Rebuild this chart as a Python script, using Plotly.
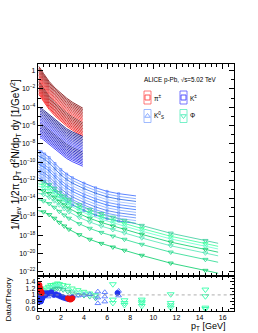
import plotly.graph_objects as go

W, H = 258, 333

# ---------------- data (log10 of 1/Nev 1/2pi pT d2N/dpTdy) ----------------
pi_pt = [0.1, 0.2, 0.3, 0.5, 0.75, 1.0, 1.5, 2.0, 2.5, 3.0, 3.5, 3.9]
pi_top_log = [0.45, 0.3, 0.1, -0.3, -0.75, -1.2, -1.9, -2.5, -3.0, -3.45, -3.85, -4.1]
pi_shift = [0.0, -0.16, -0.32, -0.48, -0.64, -0.8, -0.96, -1.12, -1.28, -1.44,
            -1.6, -1.76, -1.92, -2.08, -2.24, -2.4, -2.56, -2.72, -2.88, -3.05]

ka_pt = [0.2, 0.35, 0.5, 0.75, 1.0, 1.5, 2.0, 2.5, 3.0, 3.5, 3.9]
ka_top_log = [-4.1, -4.15, -4.3, -4.55, -4.8, -5.35, -5.9, -6.35, -6.7, -7.0, -7.2]
ka_shift = [0.0, -0.17, -0.34, -0.51, -0.68, -0.85, -1.02, -1.19, -1.36, -1.53,
            -1.7, -1.87, -2.04, -2.21, -2.38, -2.55, -2.72, -2.89, -3.06, -3.25]

k0_pt = [0.05, 0.3, 0.6, 1.0, 1.5, 2.0, 2.5, 3.0, 4.0, 5.0, 6.0, 7.0, 8.5]
k0_top_log = [-8.7, -8.85, -9.1, -9.5, -10.15, -10.8, -11.3, -11.7, -12.3, -12.8, -13.2, -13.45, -13.7]
k0_shift = [0.0, -0.3, -0.6, -0.9, -1.2, -1.5, -1.8, -2.1, -2.4, -2.7, -3.0]
k0_data_pt = [0.3, 0.6, 1.0, 1.5, 2.0, 2.5, 3.0, 4.0, 5.0, 6.0, 7.0]

phi_pt = [0.05, 0.5, 1.0, 1.44, 1.87, 2.3, 2.7, 3.6, 4.5, 5.5, 6.5, 7.5, 9.0, 11.5, 14.5, 15.6]
phi_low_log = [-15.3, -15.45, -15.75, -16.15, -16.6, -17.0, -17.35, -17.95, -18.45,
               -18.9, -19.3, -19.65, -20.2, -21.05, -21.85, -22.15]
phi_shift = [3.27, 2.94, 2.65, 2.3, 1.9, 1.2, 0.0]
phi_data_pt = [0.5, 1.0, 1.44, 1.87, 2.3, 2.7, 3.6, 4.5, 5.5, 6.5, 7.5, 9.0, 11.5, 14.5]

# ratio panel (Data/Theory)
pi_r_pt = [0.1, 0.15, 0.2, 0.25, 0.3, 0.35, 2.6, 2.7, 2.8, 2.9, 3.0]
pi_r_val = [1.25, 1.3, 1.22, 1.15, 1.1, 1.05, 0.9, 0.88, 0.86, 0.87, 0.9]

ka_r_pt = [0.2, 0.25, 0.3, 0.35, 0.4, 0.45, 0.5, 0.6, 0.7, 0.8, 0.2, 0.3, 0.4, 0.5, 0.6,
           1.0, 1.2, 1.4, 1.6, 1.8, 2.0, 2.2, 2.4, 2.6, 2.8, 3.0, 6.9]
ka_r_val = [0.85, 0.8, 0.82, 0.88, 0.9, 0.95, 1.0, 1.02, 1.0, 1.05, 1.0, 0.95, 0.92, 0.98, 1.05,
            1.05, 1.08, 1.0, 1.02, 0.98, 0.95, 0.92, 0.9, 0.88, 0.9, 0.92, 1.06]

k0_r_pt = [0.1, 0.3, 0.5, 0.7, 0.9, 1.1, 1.3, 1.5, 1.7, 1.9, 2.2, 2.6, 3.0, 3.5, 4.0, 4.5,
           5.2, 5.2, 5.2, 5.8, 5.8, 5.8, 7.0, 7.0]
k0_r_val = [0.95, 1.0, 1.05, 1.0, 0.95, 1.02, 1.05, 1.0, 0.98, 1.0, 0.95, 0.92, 0.95, 0.98, 1.0, 1.02,
            1.1, 0.92, 0.75, 1.08, 0.95, 0.8, 1.12, 0.98]

phi_r_pt = [0.5, 0.7, 0.9, 1.1, 1.3, 1.5, 1.7, 1.9, 2.2, 2.6, 3.0, 3.5, 4.0, 4.5, 5.0]
phi_r_a = [1.15, 1.2, 1.25, 1.3, 1.3, 1.32, 1.35, 1.33, 1.3, 1.28, 1.2, 1.15, 1.1, 1.05, 1.0]
phi_r_b = [1.05, 1.1, 1.15, 1.2, 1.22, 1.25, 1.28, 1.25, 1.2, 1.15, 1.1, 1.08, 1.05, 1.0, 0.98]
phi_r_c = [0.95, 1.0, 1.05, 1.1, 1.15, 1.18, 1.2, 1.18, 1.15, 1.1, 1.05, 1.0, 0.98, 0.95, 0.9]
phi_hr_pt = [6.5, 6.5, 6.5, 7.5, 7.5, 7.5, 9.0, 9.0, 9.0, 9.0, 11.5, 11.5, 11.5, 11.5, 14.5, 14.5, 14.5, 14.5]
phi_hr_val = [1.32, 0.86, 0.76, 0.84, 0.76, 0.7, 0.86, 0.8, 0.75, 0.67, 1.02, 0.76, 0.69, 0.62,
              1.16, 0.96, 0.62, 0.58]
ref_value = 1.0

y_tick_vals = [1e0, 1e-2, 1e-4, 1e-6, 1e-8, 1e-10, 1e-12, 1e-14, 1e-16, 1e-18, 1e-20, 1e-22]
y_tick_text = ["1", "10<sup>−2</sup>", "10<sup>−4</sup>", "10<sup>−6</sup>", "10<sup>−8</sup>",
               "10<sup>−10</sup>", "10<sup>−12</sup>", "10<sup>−14</sup>", "10<sup>−16</sup>",
               "10<sup>−18</sup>", "10<sup>−20</sup>", "10<sup>−22</sup>"]
y_minor_vals = [1e-1, 1e-3, 1e-5, 1e-7, 1e-9, 1e-11, 1e-13, 1e-15, 1e-17, 1e-19, 1e-21]
r_tick_vals = [0.6, 0.8, 1.0, 1.2, 1.4]
r_tick_text = ["0.6", "0.8", "1", "1.2", "1.4"]

legend_labels = ["π<sup>±</sup>", "K<sup>±</sup>", "K<sup>0</sup><sub>S</sub>", "Φ"]

# ---------------- styles ----------------
FONT = "Liberation Sans, Arial, sans-serif"


def grad(c1, c2, n):
    a = [int(c1[i:i + 2], 16) for i in (1, 3, 5)]
    b = [int(c2[i:i + 2], 16) for i in (1, 3, 5)]
    out = []
    for k in range(n):
        t = k / max(n - 1, 1)
        out.append("#%02x%02x%02x" % tuple(int(a[j] + (b[j] - a[j]) * t) for j in range(3)))
    return out


pi_colors = grad("#7a0000", "#ff2a2a", 10) + grad("#8a0000", "#ff0000", 10)
ka_colors = grad("#000078", "#3a3aff", 10) + grad("#0000a0", "#1e1eff", 10)
k0_colors = ["#3366ff", "#6f9bff", "#1f5fe6", "#99bbff", "#4d7fff", "#2a6cff",
             "#7fa8ff", "#3d70f0", "#5a8cff", "#86acff", "#2f63ea"]
phi_colors = ["#33cc99", "#33ff99", "#66ffcc", "#00cc66", "#4de6b3", "#1fd98c", "#00cc66"]


def px(x):  # window pixel -> paper fraction
    return x / W


def py(y):
    return 1 - y / H


fig = go.Figure()


def add_curves(pts, base, shifts, colors):
    for s, c in zip(shifts, colors):
        fig.add_trace(go.Scatter(x=pts, y=[10 ** (v + s) for v in base], mode="lines",
                                 line=dict(color=c, width=0.8), xaxis="x", yaxis="y",
                                 showlegend=False, hoverinfo="skip"))


add_curves(pi_pt, pi_top_log, pi_shift, pi_colors)
add_curves(ka_pt, ka_top_log, ka_shift, ka_colors)
add_curves(k0_pt, k0_top_log, k0_shift, k0_colors)
add_curves(phi_pt, phi_low_log, phi_shift, phi_colors)

# data markers on K0S and phi spectra
for s, c in zip(k0_shift, k0_colors):
    xs, ys = [], []
    for p, v in zip(k0_pt, k0_top_log):
        if p in k0_data_pt:
            xs.append(p)
            ys.append(10 ** (v + s))
    fig.add_trace(go.Scatter(x=xs, y=ys, mode="markers", xaxis="x", yaxis="y",
                             marker=dict(symbol="square-open", size=2, color=c, line=dict(width=0.5)),
                             showlegend=False, hoverinfo="skip"))
for s, c in zip(phi_shift, phi_colors):
    xs, ys = [], []
    for p, v in zip(phi_pt, phi_low_log):
        if p in phi_data_pt:
            xs.append(p)
            ys.append(10 ** (v + s))
    fig.add_trace(go.Scatter(x=xs, y=ys, mode="markers", xaxis="x", yaxis="y",
                             marker=dict(symbol="triangle-down-open", size=4.5, color=c, line=dict(width=0.8)),
                             showlegend=False, hoverinfo="skip"))

# ratio panel
fig.add_shape(type="line", xref="x2 domain", yref="y2", x0=0, x1=1, y0=ref_value, y1=ref_value,
              line=dict(color="#999999", width=0.8, dash="dot"))


def add_ratio(xs, ys, symbol, color, size=5):
    fig.add_trace(go.Scatter(x=xs, y=ys, mode="markers", xaxis="x2", yaxis="y2",
                             marker=dict(symbol=symbol, size=size, color=color, line=dict(width=0.9, color=color)),
                             showlegend=False, hoverinfo="skip"))


add_ratio(phi_r_pt, phi_r_a, "triangle-down-open", "#33ff99")
add_ratio(phi_r_pt, phi_r_b, "triangle-down-open", "#66ffcc")
add_ratio(phi_r_pt, phi_r_c, "triangle-down-open", "#33cc99")
add_ratio(k0_r_pt, k0_r_val, "triangle-up-open", "#5577ff")
add_ratio(ka_r_pt, ka_r_val, "circle", "#2233ee")
add_ratio(pi_r_pt, pi_r_val, "circle", "#ee1111")
add_ratio(phi_hr_pt, phi_hr_val, "triangle-down-open", "#33ffaa", 6)

# legend markers (separate axis in window-pixel units)
leg_pos = [(147.5, 97.5), (183.5, 97.5), (147.5, 116), (183.5, 116)]
leg_sym = ["square-open", "square-open", "triangle-up-open", "triangle-down-open"]
leg_col = ["#ff5555", "#5555ff", "#88aaff", "#55eebb"]
fig.add_trace(go.Scatter(x=[p[0] for p in leg_pos], y=[p[1] for p in leg_pos], mode="markers",
                         xaxis="x3", yaxis="y3",
                         marker=dict(symbol=leg_sym, size=5, color=leg_col, line=dict(width=1, color=leg_col)),
                         showlegend=False, hoverinfo="skip"))


def note(x, y, text, size, xanchor="center", angle=0):
    fig.add_annotation(x=px(x), y=py(y), xref="paper", yref="paper", text=text, showarrow=False,
                       xanchor=xanchor, yanchor="middle", textangle=angle,
                       font=dict(size=size, family=FONT, color="black"))


for (x, y), col, lab in zip(leg_pos, leg_col, legend_labels):
    fig.add_shape(type="rect", xref="paper", yref="paper",
                  x0=px(x - 3.5), x1=px(x + 3.5), y0=py(y + 6.5), y1=py(y - 6.5),
                  line=dict(color=col, width=0.8))
    note(x + 4.5, y, lab, 6.5, xanchor="left")

note(180, 80, "ALICE p-Pb, √s=5.02 TeV", 6.3)
note(15, 155, "1/N<sub>ev</sub> 1/2π p<sub>T</sub> d<sup>2</sup>N/dp<sub>T</sub> dy [1/GeV<sup>2</sup>]",
     10, angle=-90)
note(7.5, 300, "Data/Theory", 8, angle=-90)
note(227, 326.5, "p<sub>T</sub> [GeV]", 9, xanchor="right")

xdom = [px(37.7), px(234.3)]
ax_common = dict(showline=True, linecolor="black", linewidth=1, mirror="ticks", ticks="inside",
                 tickcolor="black", showgrid=False, zeroline=False, automargin=False,
                 tickfont=dict(size=7, family=FONT, color="black"))

fig.update_layout(
    width=W, height=H, margin=dict(l=0, r=0, t=0, b=0, autoexpand=False),
    paper_bgcolor="white", plot_bgcolor="rgba(0,0,0,0)", showlegend=False,
    xaxis=dict(domain=xdom, range=[0, 17], anchor="y", showticklabels=False, dtick=2, ticklen=5,
               minor=dict(dtick=0.5, ticklen=2.5, ticks="inside", tickcolor="black"), **ax_common),
    yaxis=dict(domain=[py(275.5), py(64)], type="log", range=[-22.4, 0.73], anchor="x",
               tickmode="array", tickvals=y_tick_vals, ticktext=y_tick_text, ticklen=5,
               minor=dict(tickmode="array", tickvals=y_minor_vals, ticklen=3, ticks="inside", tickcolor="black"),
               **ax_common),
    xaxis2=dict(domain=xdom, range=[0, 17], anchor="y2", dtick=2, ticklen=4,
                minor=dict(dtick=0.5, ticklen=2, ticks="inside", tickcolor="black"), **ax_common),
    yaxis2=dict(domain=[py(311), py(275.5)], range=[0.52, 1.58], anchor="x2",
                tickmode="array", tickvals=r_tick_vals, ticktext=r_tick_text, ticklen=4,
                minor=dict(dtick=0.1, ticklen=2, ticks="inside", tickcolor="black"), **ax_common),
    xaxis3=dict(domain=[0, 1], range=[0, W], visible=False, anchor="y3", automargin=False),
    yaxis3=dict(domain=[0, 1], range=[H, 0], visible=False, anchor="x3", automargin=False),
)

fig.write_html("out.html", config={"displayModeBar": False},
               post_script="document.body.style.margin='0';document.body.style.overflow='hidden';")
